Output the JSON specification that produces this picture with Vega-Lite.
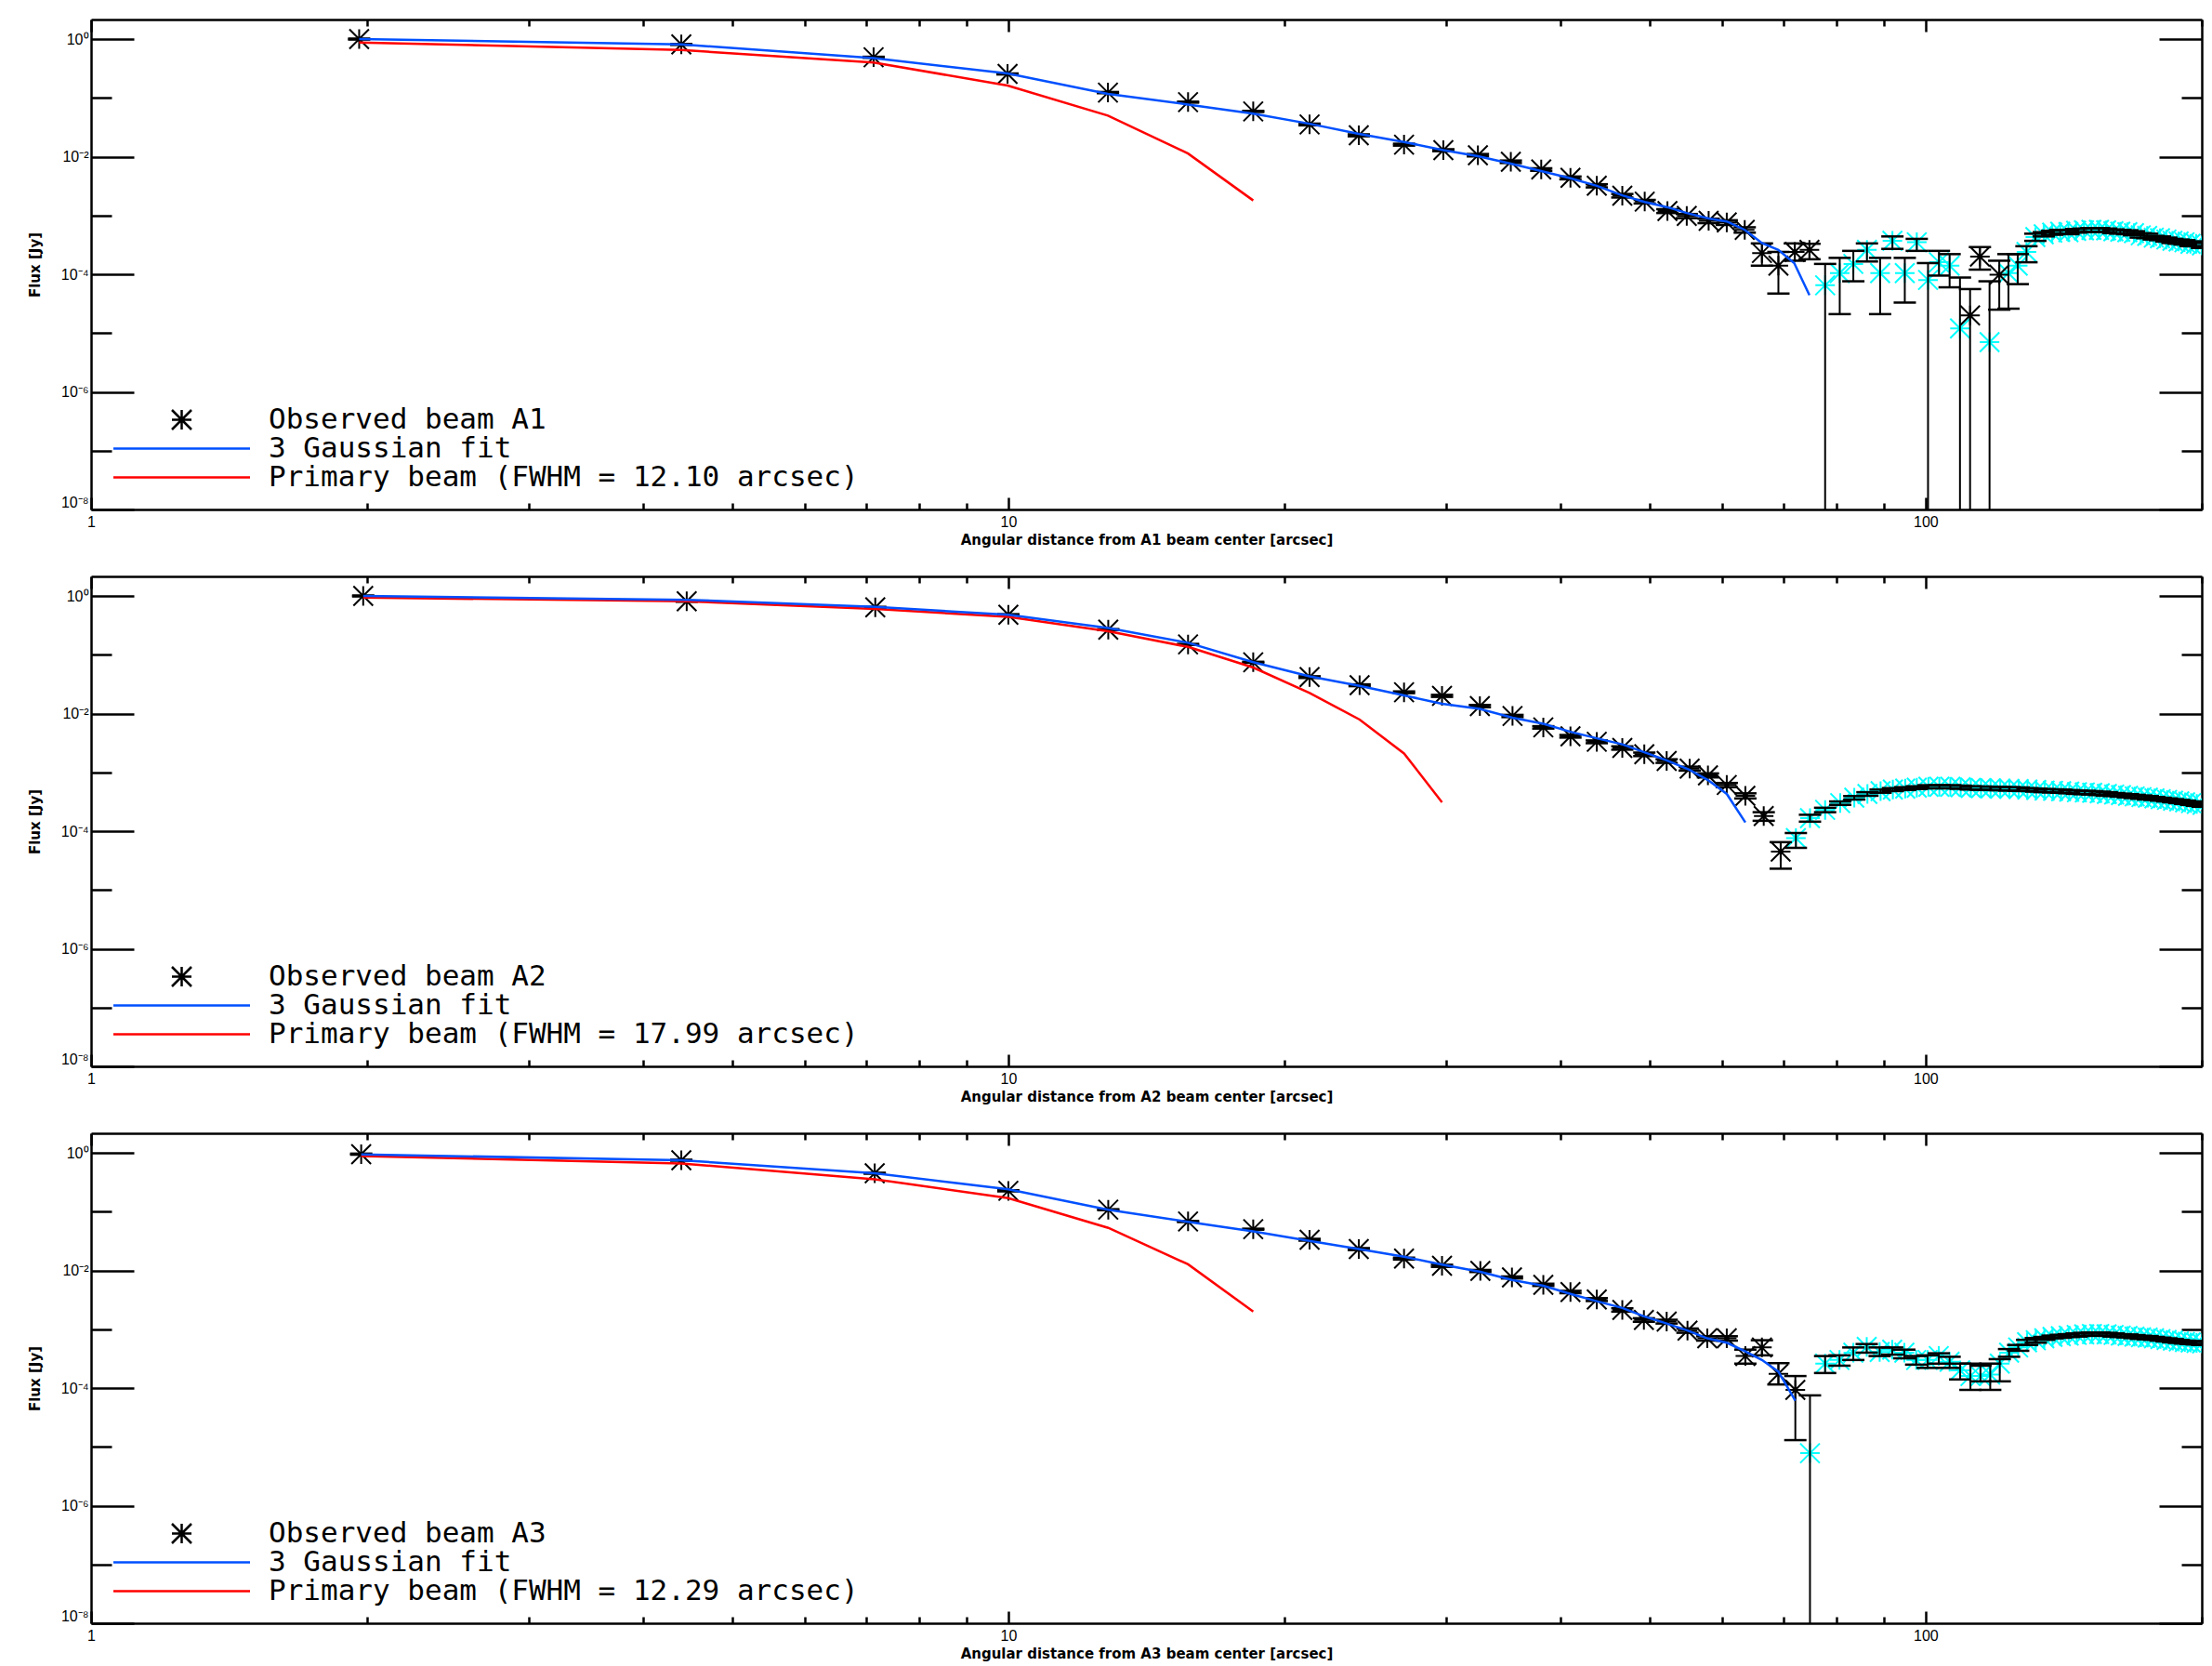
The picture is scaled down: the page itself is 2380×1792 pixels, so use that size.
{
  "$schema": "https://vega.github.io/schema/vega-lite/v6.json",
  "background": "white",
  "padding": {"left": 30, "top": 19, "right": 10, "bottom": 4},
  "spacing": 72,
  "bounds": "flush",
  "datasets": {
    "p1": [
      {"s": "obs", "r": 1.96, "f": 1.0, "lo": 0.98, "hi": 1.02},
      {"s": "obs", "r": 4.4, "f": 0.81, "lo": 0.795, "hi": 0.825},
      {"s": "obs", "r": 7.13, "f": 0.49, "lo": 0.48, "hi": 0.5},
      {"s": "obs", "r": 9.98, "f": 0.255, "lo": 0.25, "hi": 0.26},
      {"s": "obs", "r": 12.84, "f": 0.123, "lo": 0.12, "hi": 0.126},
      {"s": "obs", "r": 15.7, "f": 0.0846, "lo": 0.083, "hi": 0.0862},
      {"s": "obs", "r": 18.49, "f": 0.0588, "lo": 0.0575, "hi": 0.0601},
      {"s": "obs", "r": 21.3, "f": 0.0353, "lo": 0.0341, "hi": 0.0365},
      {"s": "obs", "r": 24.1, "f": 0.0231, "lo": 0.0222, "hi": 0.024},
      {"s": "obs", "r": 27.0, "f": 0.016, "lo": 0.0154, "hi": 0.0166},
      {"s": "obs", "r": 29.8, "f": 0.0129, "lo": 0.0124, "hi": 0.0134},
      {"s": "obs", "r": 32.5, "f": 0.0106, "lo": 0.0101, "hi": 0.0111},
      {"s": "obs", "r": 35.3, "f": 0.0082, "lo": 0.0078, "hi": 0.0086},
      {"s": "obs", "r": 38.1, "f": 0.00605, "lo": 0.00575, "hi": 0.00635},
      {"s": "obs", "r": 41.0, "f": 0.00436, "lo": 0.00412, "hi": 0.0046},
      {"s": "obs", "r": 43.8, "f": 0.0032, "lo": 0.003, "hi": 0.0034},
      {"s": "obs", "r": 46.7, "f": 0.00217, "lo": 0.00202, "hi": 0.00232},
      {"s": "obs", "r": 49.4, "f": 0.00172, "lo": 0.0016, "hi": 0.00184},
      {"s": "obs", "r": 52.3, "f": 0.00119, "lo": 0.0011, "hi": 0.00128},
      {"s": "obs", "r": 54.9, "f": 0.00098, "lo": 0.0009, "hi": 0.00106},
      {"s": "obs", "r": 58.0, "f": 0.00081, "lo": 0.00074, "hi": 0.00088},
      {"s": "obs", "r": 60.7, "f": 0.00076, "lo": 0.00069, "hi": 0.00083},
      {"s": "obs", "r": 63.5, "f": 0.00057, "lo": 0.00051, "hi": 0.00063},
      {"s": "obs", "r": 66.3, "f": 0.00023, "lo": 0.00014, "hi": 0.000335},
      {"s": "obs", "r": 69.1, "f": 0.00014, "lo": 0.000047, "hi": 0.00024},
      {"s": "obs", "r": 72.0, "f": 0.00024, "lo": 0.00017, "hi": 0.000335},
      {"s": "obs", "r": 74.7, "f": 0.00026, "lo": 0.00018, "hi": 0.00033},
      {"s": "neg", "r": 77.7, "f": 6.5e-5, "lo": 1e-9, "hi": 1.5e-4},
      {"s": "neg", "r": 80.6, "f": 1.05e-4, "lo": 2.1e-5, "hi": 1.9e-4},
      {"s": "neg", "r": 83.4, "f": 1.5e-4, "lo": 7.6e-5, "hi": 2.5e-4},
      {"s": "neg", "r": 86.3, "f": 2.6e-4, "lo": 1.65e-4, "hi": 3.35e-4},
      {"s": "neg", "r": 89.2, "f": 1.05e-4, "lo": 2.1e-5, "hi": 1.9e-4},
      {"s": "neg", "r": 92.0, "f": 3.7e-4, "lo": 2.7e-4, "hi": 4.4e-4},
      {"s": "neg", "r": 94.9, "f": 1.05e-4, "lo": 3.3e-5, "hi": 1.9e-4},
      {"s": "neg", "r": 97.8, "f": 3.5e-4, "lo": 2.5e-4, "hi": 4.0e-4},
      {"s": "neg", "r": 100.6, "f": 8.0e-5, "lo": 1e-9, "hi": 1.55e-4},
      {"s": "neg", "r": 103.4, "f": 1.6e-4, "lo": 9.5e-5, "hi": 2.5e-4},
      {"s": "neg", "r": 106.2, "f": 1.4e-4, "lo": 6.0e-5, "hi": 2.2e-4},
      {"s": "neg", "r": 109.0, "f": 1.2e-5, "lo": 1e-9, "hi": 8.8e-5},
      {"s": "obs", "r": 111.8, "f": 2.0e-5, "lo": 1e-9, "hi": 5.6e-5},
      {"s": "obs", "r": 114.6, "f": 2.0e-4, "lo": 1.2e-4, "hi": 2.9e-4},
      {"s": "neg", "r": 117.4, "f": 7.0e-6, "lo": 1e-9, "hi": 7.6e-5},
      {"s": "obs", "r": 120.3, "f": 9.8e-5, "lo": 2.5e-5, "hi": 1.7e-4},
      {"s": "neg", "r": 123.1, "f": 1.05e-4, "lo": 2.6e-5, "hi": 2.2e-4},
      {"s": "neg", "r": 126.0, "f": 1.4e-4, "lo": 6.8e-5, "hi": 2.2e-4},
      {"s": "neg", "r": 128.8, "f": 2.4e-4, "lo": 1.6e-4, "hi": 3.0e-4},
      {"s": "neg", "r": 131.7, "f": 4.3e-4, "lo": 3.7e-4, "hi": 4.9e-4},
      {"s": "neg", "r": 134.5, "f": 4.8e-4, "lo": 4.4e-4, "hi": 5.2e-4},
      {"s": "neg", "r": 137.4, "f": 5.1e-4, "lo": 4.7e-4, "hi": 5.5e-4},
      {"s": "neg", "r": 140.2, "f": 5.3e-4, "lo": 4.9e-4, "hi": 5.7e-4},
      {"s": "neg", "r": 143.1, "f": 5.2e-4, "lo": 4.8e-4, "hi": 5.6e-4},
      {"s": "neg", "r": 145.9, "f": 5.5e-4, "lo": 5.1e-4, "hi": 5.9e-4},
      {"s": "neg", "r": 148.8, "f": 5.6e-4, "lo": 5.2e-4, "hi": 6.0e-4},
      {"s": "neg", "r": 151.6, "f": 5.7e-4, "lo": 5.3e-4, "hi": 6.1e-4},
      {"s": "neg", "r": 154.5, "f": 5.7e-4, "lo": 5.3e-4, "hi": 6.1e-4},
      {"s": "neg", "r": 157.3, "f": 5.6e-4, "lo": 5.2e-4, "hi": 6.0e-4},
      {"s": "neg", "r": 160.2, "f": 5.4e-4, "lo": 5.0e-4, "hi": 5.8e-4},
      {"s": "neg", "r": 163.0, "f": 5.3e-4, "lo": 4.9e-4, "hi": 5.7e-4},
      {"s": "neg", "r": 165.9, "f": 5.2e-4, "lo": 4.8e-4, "hi": 5.6e-4},
      {"s": "neg", "r": 168.7, "f": 5.0e-4, "lo": 4.6e-4, "hi": 5.4e-4},
      {"s": "neg", "r": 171.6, "f": 4.6e-4, "lo": 4.2e-4, "hi": 5.0e-4},
      {"s": "neg", "r": 174.4, "f": 4.5e-4, "lo": 4.1e-4, "hi": 4.9e-4},
      {"s": "neg", "r": 177.3, "f": 4.2e-4, "lo": 3.9e-4, "hi": 4.5e-4},
      {"s": "neg", "r": 180.1, "f": 4.1e-4, "lo": 3.8e-4, "hi": 4.4e-4},
      {"s": "neg", "r": 183.0, "f": 3.9e-4, "lo": 3.6e-4, "hi": 4.2e-4},
      {"s": "neg", "r": 185.8, "f": 3.7e-4, "lo": 3.4e-4, "hi": 4.0e-4},
      {"s": "neg", "r": 188.7, "f": 3.6e-4, "lo": 3.3e-4, "hi": 3.9e-4},
      {"s": "neg", "r": 191.5, "f": 3.5e-4, "lo": 3.2e-4, "hi": 3.8e-4},
      {"s": "neg", "r": 194.4, "f": 3.3e-4, "lo": 3.0e-4, "hi": 3.6e-4},
      {"s": "neg", "r": 197.2, "f": 3.3e-4, "lo": 3.0e-4, "hi": 3.6e-4},
      {"s": "neg", "r": 200.1, "f": 3.1e-4, "lo": 2.8e-4, "hi": 3.4e-4},
      {"s": "fit", "r": 1.96, "f": 1.0},
      {"s": "fit", "r": 4.4, "f": 0.81},
      {"s": "fit", "r": 7.13, "f": 0.475},
      {"s": "fit", "r": 9.98, "f": 0.26},
      {"s": "fit", "r": 12.84, "f": 0.117},
      {"s": "fit", "r": 15.7, "f": 0.077},
      {"s": "fit", "r": 18.49, "f": 0.054},
      {"s": "fit", "r": 21.3, "f": 0.0363},
      {"s": "fit", "r": 24.1, "f": 0.0245},
      {"s": "fit", "r": 27.0, "f": 0.0178},
      {"s": "fit", "r": 29.8, "f": 0.0129},
      {"s": "fit", "r": 32.5, "f": 0.0102},
      {"s": "fit", "r": 35.3, "f": 0.0076},
      {"s": "fit", "r": 38.1, "f": 0.0057},
      {"s": "fit", "r": 41.0, "f": 0.0043},
      {"s": "fit", "r": 43.8, "f": 0.0032},
      {"s": "fit", "r": 46.7, "f": 0.0022},
      {"s": "fit", "r": 49.4, "f": 0.0017},
      {"s": "fit", "r": 52.3, "f": 0.00138},
      {"s": "fit", "r": 54.9, "f": 0.0011},
      {"s": "fit", "r": 58.0, "f": 0.00089},
      {"s": "fit", "r": 60.7, "f": 0.00079},
      {"s": "fit", "r": 63.5, "f": 0.00057},
      {"s": "fit", "r": 66.3, "f": 0.00034},
      {"s": "fit", "r": 69.1, "f": 0.00026},
      {"s": "fit", "r": 71.9, "f": 0.000155},
      {"s": "fit", "r": 74.7, "f": 0.000044},
      {"s": "pb", "r": 1.96, "f": 0.877},
      {"s": "pb", "r": 4.4, "f": 0.65},
      {"s": "pb", "r": 7.13, "f": 0.4},
      {"s": "pb", "r": 9.98, "f": 0.162},
      {"s": "pb", "r": 12.84, "f": 0.05},
      {"s": "pb", "r": 15.7, "f": 0.0113},
      {"s": "pb", "r": 18.49, "f": 0.0018}
    ],
    "p2": [
      {"s": "obs", "r": 1.98, "f": 1.0, "lo": 0.98, "hi": 1.02},
      {"s": "obs", "r": 4.46, "f": 0.81, "lo": 0.795, "hi": 0.825},
      {"s": "obs", "r": 7.16, "f": 0.64, "lo": 0.627, "hi": 0.653},
      {"s": "obs", "r": 10.0, "f": 0.48, "lo": 0.47, "hi": 0.49},
      {"s": "obs", "r": 12.85, "f": 0.268, "lo": 0.263, "hi": 0.273},
      {"s": "obs", "r": 15.7, "f": 0.15, "lo": 0.147, "hi": 0.153},
      {"s": "obs", "r": 18.49, "f": 0.0745, "lo": 0.073, "hi": 0.076},
      {"s": "obs", "r": 21.3, "f": 0.0417, "lo": 0.0403, "hi": 0.0431},
      {"s": "obs", "r": 24.15, "f": 0.0303, "lo": 0.0292, "hi": 0.0314},
      {"s": "obs", "r": 27.0, "f": 0.023, "lo": 0.0222, "hi": 0.0238},
      {"s": "obs", "r": 29.7, "f": 0.02, "lo": 0.0192, "hi": 0.0208},
      {"s": "obs", "r": 32.66, "f": 0.0134, "lo": 0.0128, "hi": 0.014},
      {"s": "obs", "r": 35.45, "f": 0.0091, "lo": 0.0087, "hi": 0.0095},
      {"s": "obs", "r": 38.3, "f": 0.00582, "lo": 0.00555, "hi": 0.0061},
      {"s": "obs", "r": 41.0, "f": 0.00411, "lo": 0.0039, "hi": 0.00432},
      {"s": "obs", "r": 43.8, "f": 0.00331, "lo": 0.00313, "hi": 0.00349},
      {"s": "obs", "r": 46.7, "f": 0.0026, "lo": 0.00243, "hi": 0.00277},
      {"s": "obs", "r": 49.35, "f": 0.00203, "lo": 0.00189, "hi": 0.00217},
      {"s": "obs", "r": 52.2, "f": 0.00156, "lo": 0.00145, "hi": 0.00167},
      {"s": "obs", "r": 55.3, "f": 0.00116, "lo": 0.00107, "hi": 0.00125},
      {"s": "obs", "r": 57.9, "f": 0.00089, "lo": 0.00082, "hi": 0.00096},
      {"s": "obs", "r": 60.7, "f": 0.00061, "lo": 0.00056, "hi": 0.00066},
      {"s": "obs", "r": 63.6, "f": 0.0004, "lo": 0.00036, "hi": 0.00044},
      {"s": "obs", "r": 66.6, "f": 0.000181, "lo": 0.00015, "hi": 0.00021},
      {"s": "obs", "r": 69.5, "f": 4.5e-5, "lo": 2.3e-5, "hi": 6.5e-5},
      {"s": "neg", "r": 72.2, "f": 7.6e-5, "lo": 5.2e-5, "hi": 9.3e-5},
      {"s": "neg", "r": 74.8, "f": 1.67e-4, "lo": 1.45e-4, "hi": 1.9e-4},
      {"s": "neg", "r": 77.7, "f": 2.3e-4, "lo": 2.1e-4, "hi": 2.5e-4},
      {"s": "neg", "r": 80.7, "f": 3.0e-4, "lo": 2.8e-4, "hi": 3.2e-4},
      {"s": "neg", "r": 83.6, "f": 3.7e-4, "lo": 3.45e-4, "hi": 3.95e-4},
      {"s": "neg", "r": 86.4, "f": 4.3e-4, "lo": 4.0e-4, "hi": 4.6e-4},
      {"s": "neg", "r": 89.3, "f": 4.8e-4, "lo": 4.5e-4, "hi": 5.1e-4},
      {"s": "neg", "r": 92.1, "f": 5.1e-4, "lo": 4.8e-4, "hi": 5.4e-4},
      {"s": "neg", "r": 95.0, "f": 5.3e-4, "lo": 5.0e-4, "hi": 5.6e-4},
      {"s": "neg", "r": 97.8, "f": 5.5e-4, "lo": 5.2e-4, "hi": 5.8e-4},
      {"s": "neg", "r": 100.7, "f": 5.7e-4, "lo": 5.35e-4, "hi": 6.05e-4},
      {"s": "neg", "r": 103.5, "f": 5.7e-4, "lo": 5.35e-4, "hi": 6.05e-4},
      {"s": "neg", "r": 106.4, "f": 5.7e-4, "lo": 5.35e-4, "hi": 6.05e-4},
      {"s": "neg", "r": 109.2, "f": 5.6e-4, "lo": 5.25e-4, "hi": 5.95e-4},
      {"s": "neg", "r": 112.0, "f": 5.45e-4, "lo": 5.1e-4, "hi": 5.8e-4},
      {"s": "neg", "r": 114.9, "f": 5.4e-4, "lo": 5.05e-4, "hi": 5.75e-4},
      {"s": "neg", "r": 117.7, "f": 5.35e-4, "lo": 5.0e-4, "hi": 5.7e-4},
      {"s": "neg", "r": 120.6, "f": 5.3e-4, "lo": 4.95e-4, "hi": 5.65e-4},
      {"s": "neg", "r": 123.4, "f": 5.25e-4, "lo": 4.9e-4, "hi": 5.6e-4},
      {"s": "neg", "r": 126.3, "f": 5.2e-4, "lo": 4.85e-4, "hi": 5.55e-4},
      {"s": "neg", "r": 129.1, "f": 5.1e-4, "lo": 4.8e-4, "hi": 5.4e-4},
      {"s": "neg", "r": 132.0, "f": 5.0e-4, "lo": 4.7e-4, "hi": 5.3e-4},
      {"s": "neg", "r": 134.8, "f": 4.9e-4, "lo": 4.6e-4, "hi": 5.2e-4},
      {"s": "neg", "r": 137.7, "f": 4.85e-4, "lo": 4.55e-4, "hi": 5.15e-4},
      {"s": "neg", "r": 140.5, "f": 4.8e-4, "lo": 4.5e-4, "hi": 5.1e-4},
      {"s": "neg", "r": 143.4, "f": 4.7e-4, "lo": 4.4e-4, "hi": 5.0e-4},
      {"s": "neg", "r": 146.2, "f": 4.6e-4, "lo": 4.3e-4, "hi": 4.9e-4},
      {"s": "neg", "r": 149.1, "f": 4.55e-4, "lo": 4.25e-4, "hi": 4.85e-4},
      {"s": "neg", "r": 151.9, "f": 4.5e-4, "lo": 4.2e-4, "hi": 4.8e-4},
      {"s": "neg", "r": 154.8, "f": 4.4e-4, "lo": 4.1e-4, "hi": 4.7e-4},
      {"s": "neg", "r": 157.6, "f": 4.3e-4, "lo": 4.0e-4, "hi": 4.6e-4},
      {"s": "neg", "r": 160.5, "f": 4.2e-4, "lo": 3.95e-4, "hi": 4.45e-4},
      {"s": "neg", "r": 163.3, "f": 4.1e-4, "lo": 3.85e-4, "hi": 4.35e-4},
      {"s": "neg", "r": 166.2, "f": 4.0e-4, "lo": 3.75e-4, "hi": 4.25e-4},
      {"s": "neg", "r": 169.0, "f": 3.9e-4, "lo": 3.65e-4, "hi": 4.15e-4},
      {"s": "neg", "r": 171.9, "f": 3.8e-4, "lo": 3.55e-4, "hi": 4.05e-4},
      {"s": "neg", "r": 174.7, "f": 3.7e-4, "lo": 3.45e-4, "hi": 3.95e-4},
      {"s": "neg", "r": 177.6, "f": 3.6e-4, "lo": 3.4e-4, "hi": 3.8e-4},
      {"s": "neg", "r": 180.4, "f": 3.5e-4, "lo": 3.3e-4, "hi": 3.7e-4},
      {"s": "neg", "r": 183.3, "f": 3.4e-4, "lo": 3.2e-4, "hi": 3.6e-4},
      {"s": "neg", "r": 186.1, "f": 3.3e-4, "lo": 3.1e-4, "hi": 3.5e-4},
      {"s": "neg", "r": 189.0, "f": 3.2e-4, "lo": 3.0e-4, "hi": 3.4e-4},
      {"s": "neg", "r": 191.8, "f": 3.1e-4, "lo": 2.9e-4, "hi": 3.3e-4},
      {"s": "neg", "r": 194.7, "f": 3.0e-4, "lo": 2.8e-4, "hi": 3.2e-4},
      {"s": "neg", "r": 197.5, "f": 2.9e-4, "lo": 2.7e-4, "hi": 3.1e-4},
      {"s": "neg", "r": 200.4, "f": 2.8e-4, "lo": 2.6e-4, "hi": 3.0e-4},
      {"s": "fit", "r": 1.98, "f": 1.0},
      {"s": "fit", "r": 4.46, "f": 0.86},
      {"s": "fit", "r": 7.16, "f": 0.65},
      {"s": "fit", "r": 10.0, "f": 0.48},
      {"s": "fit", "r": 12.85, "f": 0.286},
      {"s": "fit", "r": 15.7, "f": 0.16},
      {"s": "fit", "r": 18.49, "f": 0.075},
      {"s": "fit", "r": 21.3, "f": 0.043},
      {"s": "fit", "r": 24.15, "f": 0.0295},
      {"s": "fit", "r": 27.0, "f": 0.0203},
      {"s": "fit", "r": 29.7, "f": 0.0147},
      {"s": "fit", "r": 32.66, "f": 0.012},
      {"s": "fit", "r": 35.45, "f": 0.0085},
      {"s": "fit", "r": 38.3, "f": 0.0067},
      {"s": "fit", "r": 41.0, "f": 0.0049},
      {"s": "fit", "r": 43.8, "f": 0.0038},
      {"s": "fit", "r": 46.7, "f": 0.003},
      {"s": "fit", "r": 49.35, "f": 0.0022},
      {"s": "fit", "r": 52.2, "f": 0.0016},
      {"s": "fit", "r": 55.3, "f": 0.0011},
      {"s": "fit", "r": 57.9, "f": 0.00074},
      {"s": "fit", "r": 60.7, "f": 0.00043},
      {"s": "fit", "r": 63.6, "f": 0.000141},
      {"s": "pb", "r": 1.98, "f": 0.94},
      {"s": "pb", "r": 4.46, "f": 0.81},
      {"s": "pb", "r": 7.16, "f": 0.6},
      {"s": "pb", "r": 10.0, "f": 0.44},
      {"s": "pb", "r": 12.85, "f": 0.25},
      {"s": "pb", "r": 15.7, "f": 0.136},
      {"s": "pb", "r": 18.49, "f": 0.0606},
      {"s": "pb", "r": 21.3, "f": 0.0224},
      {"s": "pb", "r": 24.15, "f": 0.0079},
      {"s": "pb", "r": 27.0, "f": 0.0021},
      {"s": "pb", "r": 29.7, "f": 0.00031}
    ],
    "p3": [
      {"s": "obs", "r": 1.97, "f": 0.95, "lo": 0.93, "hi": 0.97},
      {"s": "obs", "r": 4.4, "f": 0.75, "lo": 0.735, "hi": 0.765},
      {"s": "obs", "r": 7.15, "f": 0.45, "lo": 0.441, "hi": 0.459},
      {"s": "obs", "r": 10.0, "f": 0.226, "lo": 0.221, "hi": 0.231},
      {"s": "obs", "r": 12.85, "f": 0.108, "lo": 0.106, "hi": 0.11},
      {"s": "obs", "r": 15.7, "f": 0.068, "lo": 0.0666, "hi": 0.0694},
      {"s": "obs", "r": 18.49, "f": 0.0503, "lo": 0.0493, "hi": 0.0513},
      {"s": "obs", "r": 21.3, "f": 0.0333, "lo": 0.0321, "hi": 0.0345},
      {"s": "obs", "r": 24.1, "f": 0.0231, "lo": 0.0222, "hi": 0.024},
      {"s": "obs", "r": 27.0, "f": 0.0159, "lo": 0.0153, "hi": 0.0165},
      {"s": "obs", "r": 29.7, "f": 0.012, "lo": 0.0115, "hi": 0.0125},
      {"s": "obs", "r": 32.7, "f": 0.0098, "lo": 0.0094, "hi": 0.0102},
      {"s": "obs", "r": 35.4, "f": 0.0076, "lo": 0.0073, "hi": 0.0079},
      {"s": "obs", "r": 38.3, "f": 0.0057, "lo": 0.00545, "hi": 0.00595},
      {"s": "obs", "r": 41.0, "f": 0.0043, "lo": 0.0041, "hi": 0.0045},
      {"s": "obs", "r": 43.8, "f": 0.0032, "lo": 0.00302, "hi": 0.00338},
      {"s": "obs", "r": 46.7, "f": 0.00213, "lo": 0.00199, "hi": 0.00227},
      {"s": "obs", "r": 49.3, "f": 0.00144, "lo": 0.00134, "hi": 0.00154},
      {"s": "obs", "r": 52.2, "f": 0.00135, "lo": 0.00125, "hi": 0.00145},
      {"s": "obs", "r": 55.0, "f": 0.00095, "lo": 0.00087, "hi": 0.00103},
      {"s": "obs", "r": 57.8, "f": 0.0007, "lo": 0.00064, "hi": 0.00076},
      {"s": "obs", "r": 60.7, "f": 0.0007, "lo": 0.00064, "hi": 0.00076},
      {"s": "obs", "r": 63.6, "f": 0.00035, "lo": 0.00026, "hi": 0.00045},
      {"s": "obs", "r": 66.3, "f": 0.00049, "lo": 0.00036, "hi": 0.00065},
      {"s": "obs", "r": 69.1, "f": 0.000174, "lo": 0.000115, "hi": 0.000265},
      {"s": "obs", "r": 72.1, "f": 9.3e-5, "lo": 1.3e-5, "hi": 1.6e-4},
      {"s": "neg", "r": 74.8, "f": 7.8e-6, "lo": 1e-9, "hi": 7.5e-5},
      {"s": "neg", "r": 77.7, "f": 2.6e-4, "lo": 1.8e-4, "hi": 3.5e-4},
      {"s": "neg", "r": 80.55, "f": 3.0e-4, "lo": 2.4e-4, "hi": 3.6e-4},
      {"s": "neg", "r": 83.4, "f": 4.0e-4, "lo": 3.0e-4, "hi": 4.9e-4},
      {"s": "neg", "r": 86.25, "f": 5.0e-4, "lo": 4.0e-4, "hi": 5.6e-4},
      {"s": "neg", "r": 89.1, "f": 4.1e-4, "lo": 3.5e-4, "hi": 4.9e-4},
      {"s": "neg", "r": 91.95, "f": 4.5e-4, "lo": 3.7e-4, "hi": 4.9e-4},
      {"s": "neg", "r": 94.8, "f": 4.0e-4, "lo": 3.2e-4, "hi": 4.5e-4},
      {"s": "neg", "r": 97.65, "f": 3.0e-4, "lo": 2.5e-4, "hi": 3.5e-4},
      {"s": "neg", "r": 100.5, "f": 3.0e-4, "lo": 2.2e-4, "hi": 3.6e-4},
      {"s": "neg", "r": 103.35, "f": 3.5e-4, "lo": 2.6e-4, "hi": 3.9e-4},
      {"s": "neg", "r": 106.2, "f": 2.8e-4, "lo": 2.2e-4, "hi": 3.4e-4},
      {"s": "neg", "r": 109.05, "f": 2.0e-4, "lo": 1.4e-4, "hi": 2.6e-4},
      {"s": "neg", "r": 111.9, "f": 1.6e-4, "lo": 9.3e-5, "hi": 2.6e-4},
      {"s": "neg", "r": 114.75, "f": 1.6e-4, "lo": 1.3e-4, "hi": 2.4e-4},
      {"s": "neg", "r": 117.6, "f": 1.7e-4, "lo": 9.3e-5, "hi": 2.6e-4},
      {"s": "neg", "r": 120.45, "f": 2.6e-4, "lo": 1.3e-4, "hi": 3.1e-4},
      {"s": "neg", "r": 123.3, "f": 4.0e-4, "lo": 3.4e-4, "hi": 4.6e-4},
      {"s": "neg", "r": 126.15, "f": 4.9e-4, "lo": 4.3e-4, "hi": 5.4e-4},
      {"s": "neg", "r": 129.0, "f": 6.0e-4, "lo": 5.4e-4, "hi": 6.6e-4},
      {"s": "neg", "r": 131.85, "f": 6.5e-4, "lo": 5.9e-4, "hi": 7.1e-4},
      {"s": "neg", "r": 134.7, "f": 7.0e-4, "lo": 6.6e-4, "hi": 7.4e-4},
      {"s": "neg", "r": 137.5, "f": 7.4e-4, "lo": 7.0e-4, "hi": 7.8e-4},
      {"s": "neg", "r": 140.4, "f": 7.6e-4, "lo": 7.15e-4, "hi": 8.05e-4},
      {"s": "neg", "r": 143.2, "f": 7.8e-4, "lo": 7.35e-4, "hi": 8.25e-4},
      {"s": "neg", "r": 146.1, "f": 8.0e-4, "lo": 7.5e-4, "hi": 8.5e-4},
      {"s": "neg", "r": 148.9, "f": 8.2e-4, "lo": 7.7e-4, "hi": 8.7e-4},
      {"s": "neg", "r": 151.8, "f": 8.3e-4, "lo": 7.8e-4, "hi": 8.8e-4},
      {"s": "neg", "r": 154.6, "f": 8.3e-4, "lo": 7.8e-4, "hi": 8.8e-4},
      {"s": "neg", "r": 157.5, "f": 8.2e-4, "lo": 7.7e-4, "hi": 8.7e-4},
      {"s": "neg", "r": 160.3, "f": 8.0e-4, "lo": 7.5e-4, "hi": 8.5e-4},
      {"s": "neg", "r": 163.2, "f": 7.8e-4, "lo": 7.35e-4, "hi": 8.25e-4},
      {"s": "neg", "r": 166.0, "f": 7.7e-4, "lo": 7.25e-4, "hi": 8.15e-4},
      {"s": "neg", "r": 168.9, "f": 7.5e-4, "lo": 7.05e-4, "hi": 7.95e-4},
      {"s": "neg", "r": 171.7, "f": 7.3e-4, "lo": 6.85e-4, "hi": 7.75e-4},
      {"s": "neg", "r": 174.6, "f": 7.2e-4, "lo": 6.75e-4, "hi": 7.65e-4},
      {"s": "neg", "r": 177.4, "f": 7.0e-4, "lo": 6.6e-4, "hi": 7.4e-4},
      {"s": "neg", "r": 180.3, "f": 6.8e-4, "lo": 6.4e-4, "hi": 7.2e-4},
      {"s": "neg", "r": 183.1, "f": 6.6e-4, "lo": 6.2e-4, "hi": 7.0e-4},
      {"s": "neg", "r": 186.0, "f": 6.4e-4, "lo": 6.0e-4, "hi": 6.8e-4},
      {"s": "neg", "r": 188.8, "f": 6.2e-4, "lo": 5.85e-4, "hi": 6.55e-4},
      {"s": "neg", "r": 191.7, "f": 6.05e-4, "lo": 5.7e-4, "hi": 6.4e-4},
      {"s": "neg", "r": 194.5, "f": 5.95e-4, "lo": 5.6e-4, "hi": 6.3e-4},
      {"s": "neg", "r": 197.4, "f": 5.85e-4, "lo": 5.5e-4, "hi": 6.2e-4},
      {"s": "neg", "r": 200.2, "f": 5.75e-4, "lo": 5.4e-4, "hi": 6.1e-4},
      {"s": "fit", "r": 1.97, "f": 0.94},
      {"s": "fit", "r": 4.4, "f": 0.75},
      {"s": "fit", "r": 7.15, "f": 0.45},
      {"s": "fit", "r": 10.0, "f": 0.24},
      {"s": "fit", "r": 12.85, "f": 0.108},
      {"s": "fit", "r": 15.7, "f": 0.067},
      {"s": "fit", "r": 18.49, "f": 0.046},
      {"s": "fit", "r": 21.3, "f": 0.0318},
      {"s": "fit", "r": 24.1, "f": 0.0231},
      {"s": "fit", "r": 27.0, "f": 0.0171},
      {"s": "fit", "r": 29.7, "f": 0.0126},
      {"s": "fit", "r": 32.7, "f": 0.0095},
      {"s": "fit", "r": 35.4, "f": 0.0069},
      {"s": "fit", "r": 38.3, "f": 0.0055},
      {"s": "fit", "r": 41.0, "f": 0.004},
      {"s": "fit", "r": 43.8, "f": 0.003},
      {"s": "fit", "r": 46.7, "f": 0.0023},
      {"s": "fit", "r": 49.3, "f": 0.00166},
      {"s": "fit", "r": 52.2, "f": 0.00125},
      {"s": "fit", "r": 55.0, "f": 0.00095},
      {"s": "fit", "r": 57.8, "f": 0.0007},
      {"s": "fit", "r": 60.7, "f": 0.00059},
      {"s": "fit", "r": 63.6, "f": 0.00042},
      {"s": "fit", "r": 66.3, "f": 0.0003},
      {"s": "fit", "r": 69.1, "f": 0.00019},
      {"s": "fit", "r": 72.1, "f": 0.000061},
      {"s": "pb", "r": 1.97, "f": 0.88},
      {"s": "pb", "r": 4.4, "f": 0.66},
      {"s": "pb", "r": 7.15, "f": 0.356},
      {"s": "pb", "r": 10.0, "f": 0.17},
      {"s": "pb", "r": 12.85, "f": 0.053},
      {"s": "pb", "r": 15.7, "f": 0.0127},
      {"s": "pb", "r": 18.49, "f": 0.002}
    ]
  },
  "vconcat": [
    {
      "width": 2271,
      "height": 527,
      "data": {"name": "p1"},
      "resolve": {"axis": {"x": "independent", "y": "independent"}},
      "layer": [
        {
          "transform": [{"filter": "datum.s == 'neg'"}],
          "mark": {"type": "point", "shape": "M-1,0L1,0M0,-1L0,1M-1,-1L1,1M-1,1L1,-1", "filled": false, "color": "#00ffff", "strokeWidth": 2, "size": 441, "opacity": 1, "clip": true},
          "encoding": {
            "x": {"field": "r", "type": "quantitative", "scale": {"type": "log", "domain": [1, 200], "nice": false}, "axis": null},
            "y": {"field": "f", "type": "quantitative", "scale": {"type": "log", "domain": [1e-8, 2.15], "nice": false}, "axis": null}
          }
        },
        {
          "transform": [{"filter": "datum.s == 'obs'"}],
          "mark": {"type": "point", "filled": false, "strokeWidth": 2, "size": 441, "opacity": 1, "clip": true},
          "encoding": {
            "x": {"field": "r", "type": "quantitative", "scale": {"type": "log", "domain": [1, 200], "nice": false},
              "axis": {"orient": "bottom", "values": [1, 2, 3, 4, 5, 6, 7, 8, 9, 10, 20, 30, 40, 50, 60, 70, 80, 90, 100, 200],
                "labelExpr": "datum.value == 1 ? '1' : datum.value == 10 ? '10' : datum.value == 100 ? '100' : ''",
                "tickSize": {"condition": {"test": "datum.value == 1 || datum.value == 10 || datum.value == 100", "value": -13}, "value": -7},
                "labelPadding": 18, "labelBaseline": "top", "labelFlush": false, "labelOverlap": false,
                "title": "Angular distance from A1 beam center [arcsec]", "titlePadding": -2}},
            "y": {"field": "f", "type": "quantitative", "scale": {"type": "log", "domain": [1e-8, 2.15], "nice": false},
              "axis": {"orient": "left", "values": [1, 0.1, 0.01, 0.001, 0.0001, 1e-5, 1e-6, 1e-7, 1e-8],
                "labelExpr": "round(log(datum.value)/LN10) == 0 ? '10⁰' : round(log(datum.value)/LN10) == -2 ? '10⁻²' : round(log(datum.value)/LN10) == -4 ? '10⁻⁴' : round(log(datum.value)/LN10) == -6 ? '10⁻⁶' : round(log(datum.value)/LN10) == -8 ? '10⁻⁸' : ''",
                "tickSize": {"condition": {"test": "abs(round(log(datum.value)/LN10)) % 2 == 0", "value": -46}, "value": -22},
                "labelPadding": 49, "labelFlush": true, "labelOverlap": false,
                "title": "Flux [Jy]", "titlePadding": 20}},
            "color": {"field": "s", "type": "nominal",
              "scale": {"domain": ["obs", "fit", "pb"], "range": ["black", "#0050ff", "#ff0000"]},
              "legend": {"title": null, "orient": "bottom-left", "offset": 19, "padding": 0, "symbolOffset": 63, "labelOffset": 78, "rowPadding": -6,
                "labelFont": "DejaVu Sans Mono", "labelFontSize": 31, "labelLimit": 1500, "labelColor": "black",
                "symbolSize": 441, "symbolStrokeWidth": 2.5, "symbolOpacity": 1,
                "labelExpr": "datum.label == 'obs' ? 'Observed beam A1' : datum.label == 'fit' ? '3 Gaussian fit' : 'Primary beam (FWHM = 12.10 arcsec)'"}},
            "shape": {"field": "s", "type": "nominal",
              "scale": {"domain": ["obs", "fit", "pb"], "range": ["M-1,0L1,0M0,-1L0,1M-1,-1L1,1M-1,1L1,-1", "M-7,0L7,0", "M-7,0L7,0"]},
              "legend": {"title": null, "orient": "bottom-left", "offset": 19, "padding": 0, "symbolOffset": 63, "labelOffset": 78, "rowPadding": -6,
                "labelFont": "DejaVu Sans Mono", "labelFontSize": 31, "labelLimit": 1500, "labelColor": "black",
                "symbolSize": 441, "symbolStrokeWidth": 2.5, "symbolOpacity": 1,
                "labelExpr": "datum.label == 'obs' ? 'Observed beam A1' : datum.label == 'fit' ? '3 Gaussian fit' : 'Primary beam (FWHM = 12.10 arcsec)'"}}
          }
        },
        {
          "transform": [{"filter": "datum.s == 'obs' || datum.s == 'neg'"}],
          "mark": {"type": "rule", "color": "black", "strokeWidth": 2, "clip": true},
          "encoding": {
            "x": {"field": "r", "type": "quantitative", "scale": {"type": "log", "domain": [1, 200], "nice": false}, "axis": null},
            "y": {"field": "lo", "type": "quantitative", "scale": {"type": "log", "domain": [1e-8, 2.15], "nice": false}, "axis": null},
            "y2": {"field": "hi"}
          }
        },
        {
          "transform": [{"filter": "datum.s == 'obs' || datum.s == 'neg'"}],
          "mark": {"type": "tick", "orient": "horizontal", "size": 24, "thickness": 2.5, "color": "black", "opacity": 1, "clip": true},
          "encoding": {
            "x": {"field": "r", "type": "quantitative", "scale": {"type": "log", "domain": [1, 200], "nice": false}, "axis": null},
            "y": {"field": "hi", "type": "quantitative", "scale": {"type": "log", "domain": [1e-8, 2.15], "nice": false}, "axis": null}
          }
        },
        {
          "transform": [{"filter": "datum.s == 'obs' || datum.s == 'neg'"}],
          "mark": {"type": "tick", "orient": "horizontal", "size": 24, "thickness": 2.5, "color": "black", "opacity": 1, "clip": true},
          "encoding": {
            "x": {"field": "r", "type": "quantitative", "scale": {"type": "log", "domain": [1, 200], "nice": false}, "axis": null},
            "y": {"field": "lo", "type": "quantitative", "scale": {"type": "log", "domain": [1e-8, 2.15], "nice": false}, "axis": null}
          }
        },
        {
          "transform": [{"filter": "datum.s == 'pb'"}],
          "mark": {"type": "line", "color": "#ff0000", "strokeWidth": 2.5, "clip": true},
          "encoding": {
            "x": {"field": "r", "type": "quantitative", "scale": {"type": "log", "domain": [1, 200], "nice": false}, "axis": null},
            "y": {"field": "f", "type": "quantitative", "scale": {"type": "log", "domain": [1e-8, 2.15], "nice": false}, "axis": null}
          }
        },
        {
          "transform": [{"filter": "datum.s == 'fit'"}],
          "mark": {"type": "line", "color": "#0050ff", "strokeWidth": 2.5, "clip": true},
          "encoding": {
            "x": {"field": "r", "type": "quantitative", "scale": {"type": "log", "domain": [1, 200], "nice": false},
              "axis": {"orient": "top", "values": [1, 2, 3, 4, 5, 6, 7, 8, 9, 10, 20, 30, 40, 50, 60, 70, 80, 90, 100, 200], "labels": false, "title": null,
                "tickSize": {"condition": {"test": "datum.value == 1 || datum.value == 10 || datum.value == 100", "value": -13}, "value": -7}}},
            "y": {"field": "f", "type": "quantitative", "scale": {"type": "log", "domain": [1e-8, 2.15], "nice": false},
              "axis": {"orient": "right", "values": [1, 0.1, 0.01, 0.001, 0.0001, 1e-5, 1e-6, 1e-7, 1e-8], "labels": false, "title": null,
                "tickSize": {"condition": {"test": "abs(round(log(datum.value)/LN10)) % 2 == 0", "value": -46}, "value": -22}}}
          }
        }
      ]
    },
    {
      "width": 2271,
      "height": 527,
      "data": {"name": "p2"},
      "resolve": {"axis": {"x": "independent", "y": "independent"}},
      "layer": [
        {
          "transform": [{"filter": "datum.s == 'neg'"}],
          "mark": {"type": "point", "shape": "M-1,0L1,0M0,-1L0,1M-1,-1L1,1M-1,1L1,-1", "filled": false, "color": "#00ffff", "strokeWidth": 2, "size": 441, "opacity": 1, "clip": true},
          "encoding": {
            "x": {"field": "r", "type": "quantitative", "scale": {"type": "log", "domain": [1, 200], "nice": false}, "axis": null},
            "y": {"field": "f", "type": "quantitative", "scale": {"type": "log", "domain": [1e-8, 2.15], "nice": false}, "axis": null}
          }
        },
        {
          "transform": [{"filter": "datum.s == 'obs'"}],
          "mark": {"type": "point", "filled": false, "strokeWidth": 2, "size": 441, "opacity": 1, "clip": true},
          "encoding": {
            "x": {"field": "r", "type": "quantitative", "scale": {"type": "log", "domain": [1, 200], "nice": false},
              "axis": {"orient": "bottom", "values": [1, 2, 3, 4, 5, 6, 7, 8, 9, 10, 20, 30, 40, 50, 60, 70, 80, 90, 100, 200],
                "labelExpr": "datum.value == 1 ? '1' : datum.value == 10 ? '10' : datum.value == 100 ? '100' : ''",
                "tickSize": {"condition": {"test": "datum.value == 1 || datum.value == 10 || datum.value == 100", "value": -13}, "value": -7},
                "labelPadding": 18, "labelBaseline": "top", "labelFlush": false, "labelOverlap": false,
                "title": "Angular distance from A2 beam center [arcsec]", "titlePadding": -2}},
            "y": {"field": "f", "type": "quantitative", "scale": {"type": "log", "domain": [1e-8, 2.15], "nice": false},
              "axis": {"orient": "left", "values": [1, 0.1, 0.01, 0.001, 0.0001, 1e-5, 1e-6, 1e-7, 1e-8],
                "labelExpr": "round(log(datum.value)/LN10) == 0 ? '10⁰' : round(log(datum.value)/LN10) == -2 ? '10⁻²' : round(log(datum.value)/LN10) == -4 ? '10⁻⁴' : round(log(datum.value)/LN10) == -6 ? '10⁻⁶' : round(log(datum.value)/LN10) == -8 ? '10⁻⁸' : ''",
                "tickSize": {"condition": {"test": "abs(round(log(datum.value)/LN10)) % 2 == 0", "value": -46}, "value": -22},
                "labelPadding": 49, "labelFlush": true, "labelOverlap": false,
                "title": "Flux [Jy]", "titlePadding": 20}},
            "color": {"field": "s", "type": "nominal",
              "scale": {"domain": ["obs", "fit", "pb"], "range": ["black", "#0050ff", "#ff0000"]},
              "legend": {"title": null, "orient": "bottom-left", "offset": 19, "padding": 0, "symbolOffset": 63, "labelOffset": 78, "rowPadding": -6,
                "labelFont": "DejaVu Sans Mono", "labelFontSize": 31, "labelLimit": 1500, "labelColor": "black",
                "symbolSize": 441, "symbolStrokeWidth": 2.5, "symbolOpacity": 1,
                "labelExpr": "datum.label == 'obs' ? 'Observed beam A2' : datum.label == 'fit' ? '3 Gaussian fit' : 'Primary beam (FWHM = 17.99 arcsec)'"}},
            "shape": {"field": "s", "type": "nominal",
              "scale": {"domain": ["obs", "fit", "pb"], "range": ["M-1,0L1,0M0,-1L0,1M-1,-1L1,1M-1,1L1,-1", "M-7,0L7,0", "M-7,0L7,0"]},
              "legend": {"title": null, "orient": "bottom-left", "offset": 19, "padding": 0, "symbolOffset": 63, "labelOffset": 78, "rowPadding": -6,
                "labelFont": "DejaVu Sans Mono", "labelFontSize": 31, "labelLimit": 1500, "labelColor": "black",
                "symbolSize": 441, "symbolStrokeWidth": 2.5, "symbolOpacity": 1,
                "labelExpr": "datum.label == 'obs' ? 'Observed beam A2' : datum.label == 'fit' ? '3 Gaussian fit' : 'Primary beam (FWHM = 17.99 arcsec)'"}}
          }
        },
        {
          "transform": [{"filter": "datum.s == 'obs' || datum.s == 'neg'"}],
          "mark": {"type": "rule", "color": "black", "strokeWidth": 2, "clip": true},
          "encoding": {
            "x": {"field": "r", "type": "quantitative", "scale": {"type": "log", "domain": [1, 200], "nice": false}, "axis": null},
            "y": {"field": "lo", "type": "quantitative", "scale": {"type": "log", "domain": [1e-8, 2.15], "nice": false}, "axis": null},
            "y2": {"field": "hi"}
          }
        },
        {
          "transform": [{"filter": "datum.s == 'obs' || datum.s == 'neg'"}],
          "mark": {"type": "tick", "orient": "horizontal", "size": 24, "thickness": 2.5, "color": "black", "opacity": 1, "clip": true},
          "encoding": {
            "x": {"field": "r", "type": "quantitative", "scale": {"type": "log", "domain": [1, 200], "nice": false}, "axis": null},
            "y": {"field": "hi", "type": "quantitative", "scale": {"type": "log", "domain": [1e-8, 2.15], "nice": false}, "axis": null}
          }
        },
        {
          "transform": [{"filter": "datum.s == 'obs' || datum.s == 'neg'"}],
          "mark": {"type": "tick", "orient": "horizontal", "size": 24, "thickness": 2.5, "color": "black", "opacity": 1, "clip": true},
          "encoding": {
            "x": {"field": "r", "type": "quantitative", "scale": {"type": "log", "domain": [1, 200], "nice": false}, "axis": null},
            "y": {"field": "lo", "type": "quantitative", "scale": {"type": "log", "domain": [1e-8, 2.15], "nice": false}, "axis": null}
          }
        },
        {
          "transform": [{"filter": "datum.s == 'pb'"}],
          "mark": {"type": "line", "color": "#ff0000", "strokeWidth": 2.5, "clip": true},
          "encoding": {
            "x": {"field": "r", "type": "quantitative", "scale": {"type": "log", "domain": [1, 200], "nice": false}, "axis": null},
            "y": {"field": "f", "type": "quantitative", "scale": {"type": "log", "domain": [1e-8, 2.15], "nice": false}, "axis": null}
          }
        },
        {
          "transform": [{"filter": "datum.s == 'fit'"}],
          "mark": {"type": "line", "color": "#0050ff", "strokeWidth": 2.5, "clip": true},
          "encoding": {
            "x": {"field": "r", "type": "quantitative", "scale": {"type": "log", "domain": [1, 200], "nice": false},
              "axis": {"orient": "top", "values": [1, 2, 3, 4, 5, 6, 7, 8, 9, 10, 20, 30, 40, 50, 60, 70, 80, 90, 100, 200], "labels": false, "title": null,
                "tickSize": {"condition": {"test": "datum.value == 1 || datum.value == 10 || datum.value == 100", "value": -13}, "value": -7}}},
            "y": {"field": "f", "type": "quantitative", "scale": {"type": "log", "domain": [1e-8, 2.15], "nice": false},
              "axis": {"orient": "right", "values": [1, 0.1, 0.01, 0.001, 0.0001, 1e-5, 1e-6, 1e-7, 1e-8], "labels": false, "title": null,
                "tickSize": {"condition": {"test": "abs(round(log(datum.value)/LN10)) % 2 == 0", "value": -46}, "value": -22}}}
          }
        }
      ]
    },
    {
      "width": 2271,
      "height": 527,
      "data": {"name": "p3"},
      "resolve": {"axis": {"x": "independent", "y": "independent"}},
      "layer": [
        {
          "transform": [{"filter": "datum.s == 'neg'"}],
          "mark": {"type": "point", "shape": "M-1,0L1,0M0,-1L0,1M-1,-1L1,1M-1,1L1,-1", "filled": false, "color": "#00ffff", "strokeWidth": 2, "size": 441, "opacity": 1, "clip": true},
          "encoding": {
            "x": {"field": "r", "type": "quantitative", "scale": {"type": "log", "domain": [1, 200], "nice": false}, "axis": null},
            "y": {"field": "f", "type": "quantitative", "scale": {"type": "log", "domain": [1e-8, 2.15], "nice": false}, "axis": null}
          }
        },
        {
          "transform": [{"filter": "datum.s == 'obs'"}],
          "mark": {"type": "point", "filled": false, "strokeWidth": 2, "size": 441, "opacity": 1, "clip": true},
          "encoding": {
            "x": {"field": "r", "type": "quantitative", "scale": {"type": "log", "domain": [1, 200], "nice": false},
              "axis": {"orient": "bottom", "values": [1, 2, 3, 4, 5, 6, 7, 8, 9, 10, 20, 30, 40, 50, 60, 70, 80, 90, 100, 200],
                "labelExpr": "datum.value == 1 ? '1' : datum.value == 10 ? '10' : datum.value == 100 ? '100' : ''",
                "tickSize": {"condition": {"test": "datum.value == 1 || datum.value == 10 || datum.value == 100", "value": -13}, "value": -7},
                "labelPadding": 18, "labelBaseline": "top", "labelFlush": false, "labelOverlap": false,
                "title": "Angular distance from A3 beam center [arcsec]", "titlePadding": -2}},
            "y": {"field": "f", "type": "quantitative", "scale": {"type": "log", "domain": [1e-8, 2.15], "nice": false},
              "axis": {"orient": "left", "values": [1, 0.1, 0.01, 0.001, 0.0001, 1e-5, 1e-6, 1e-7, 1e-8],
                "labelExpr": "round(log(datum.value)/LN10) == 0 ? '10⁰' : round(log(datum.value)/LN10) == -2 ? '10⁻²' : round(log(datum.value)/LN10) == -4 ? '10⁻⁴' : round(log(datum.value)/LN10) == -6 ? '10⁻⁶' : round(log(datum.value)/LN10) == -8 ? '10⁻⁸' : ''",
                "tickSize": {"condition": {"test": "abs(round(log(datum.value)/LN10)) % 2 == 0", "value": -46}, "value": -22},
                "labelPadding": 49, "labelFlush": true, "labelOverlap": false,
                "title": "Flux [Jy]", "titlePadding": 20}},
            "color": {"field": "s", "type": "nominal",
              "scale": {"domain": ["obs", "fit", "pb"], "range": ["black", "#0050ff", "#ff0000"]},
              "legend": {"title": null, "orient": "bottom-left", "offset": 19, "padding": 0, "symbolOffset": 63, "labelOffset": 78, "rowPadding": -6,
                "labelFont": "DejaVu Sans Mono", "labelFontSize": 31, "labelLimit": 1500, "labelColor": "black",
                "symbolSize": 441, "symbolStrokeWidth": 2.5, "symbolOpacity": 1,
                "labelExpr": "datum.label == 'obs' ? 'Observed beam A3' : datum.label == 'fit' ? '3 Gaussian fit' : 'Primary beam (FWHM = 12.29 arcsec)'"}},
            "shape": {"field": "s", "type": "nominal",
              "scale": {"domain": ["obs", "fit", "pb"], "range": ["M-1,0L1,0M0,-1L0,1M-1,-1L1,1M-1,1L1,-1", "M-7,0L7,0", "M-7,0L7,0"]},
              "legend": {"title": null, "orient": "bottom-left", "offset": 19, "padding": 0, "symbolOffset": 63, "labelOffset": 78, "rowPadding": -6,
                "labelFont": "DejaVu Sans Mono", "labelFontSize": 31, "labelLimit": 1500, "labelColor": "black",
                "symbolSize": 441, "symbolStrokeWidth": 2.5, "symbolOpacity": 1,
                "labelExpr": "datum.label == 'obs' ? 'Observed beam A3' : datum.label == 'fit' ? '3 Gaussian fit' : 'Primary beam (FWHM = 12.29 arcsec)'"}}
          }
        },
        {
          "transform": [{"filter": "datum.s == 'obs' || datum.s == 'neg'"}],
          "mark": {"type": "rule", "color": "black", "strokeWidth": 2, "clip": true},
          "encoding": {
            "x": {"field": "r", "type": "quantitative", "scale": {"type": "log", "domain": [1, 200], "nice": false}, "axis": null},
            "y": {"field": "lo", "type": "quantitative", "scale": {"type": "log", "domain": [1e-8, 2.15], "nice": false}, "axis": null},
            "y2": {"field": "hi"}
          }
        },
        {
          "transform": [{"filter": "datum.s == 'obs' || datum.s == 'neg'"}],
          "mark": {"type": "tick", "orient": "horizontal", "size": 24, "thickness": 2.5, "color": "black", "opacity": 1, "clip": true},
          "encoding": {
            "x": {"field": "r", "type": "quantitative", "scale": {"type": "log", "domain": [1, 200], "nice": false}, "axis": null},
            "y": {"field": "hi", "type": "quantitative", "scale": {"type": "log", "domain": [1e-8, 2.15], "nice": false}, "axis": null}
          }
        },
        {
          "transform": [{"filter": "datum.s == 'obs' || datum.s == 'neg'"}],
          "mark": {"type": "tick", "orient": "horizontal", "size": 24, "thickness": 2.5, "color": "black", "opacity": 1, "clip": true},
          "encoding": {
            "x": {"field": "r", "type": "quantitative", "scale": {"type": "log", "domain": [1, 200], "nice": false}, "axis": null},
            "y": {"field": "lo", "type": "quantitative", "scale": {"type": "log", "domain": [1e-8, 2.15], "nice": false}, "axis": null}
          }
        },
        {
          "transform": [{"filter": "datum.s == 'pb'"}],
          "mark": {"type": "line", "color": "#ff0000", "strokeWidth": 2.5, "clip": true},
          "encoding": {
            "x": {"field": "r", "type": "quantitative", "scale": {"type": "log", "domain": [1, 200], "nice": false}, "axis": null},
            "y": {"field": "f", "type": "quantitative", "scale": {"type": "log", "domain": [1e-8, 2.15], "nice": false}, "axis": null}
          }
        },
        {
          "transform": [{"filter": "datum.s == 'fit'"}],
          "mark": {"type": "line", "color": "#0050ff", "strokeWidth": 2.5, "clip": true},
          "encoding": {
            "x": {"field": "r", "type": "quantitative", "scale": {"type": "log", "domain": [1, 200], "nice": false},
              "axis": {"orient": "top", "values": [1, 2, 3, 4, 5, 6, 7, 8, 9, 10, 20, 30, 40, 50, 60, 70, 80, 90, 100, 200], "labels": false, "title": null,
                "tickSize": {"condition": {"test": "datum.value == 1 || datum.value == 10 || datum.value == 100", "value": -13}, "value": -7}}},
            "y": {"field": "f", "type": "quantitative", "scale": {"type": "log", "domain": [1e-8, 2.15], "nice": false},
              "axis": {"orient": "right", "values": [1, 0.1, 0.01, 0.001, 0.0001, 1e-5, 1e-6, 1e-7, 1e-8], "labels": false, "title": null,
                "tickSize": {"condition": {"test": "abs(round(log(datum.value)/LN10)) % 2 == 0", "value": -46}, "value": -22}}}
          }
        }
      ]
    }
  ],
  "resolve": {
    "scale": {"color": "independent", "shape": "independent"},
    "legend": {"color": "independent", "shape": "independent"}
  },
  "config": {
    "view": {"stroke": null},
    "axis": {
      "grid": false,
      "domainColor": "black",
      "domainWidth": 2.5,
      "tickColor": "black",
      "tickWidth": 2.5,
      "labelFont": "Liberation Sans",
      "labelFontSize": 16,
      "labelColor": "black",
      "titleFont": "DejaVu Sans",
      "titleFontSize": 15,
      "titleFontWeight": "bold",
      "titleColor": "black"
    }
  }
}
